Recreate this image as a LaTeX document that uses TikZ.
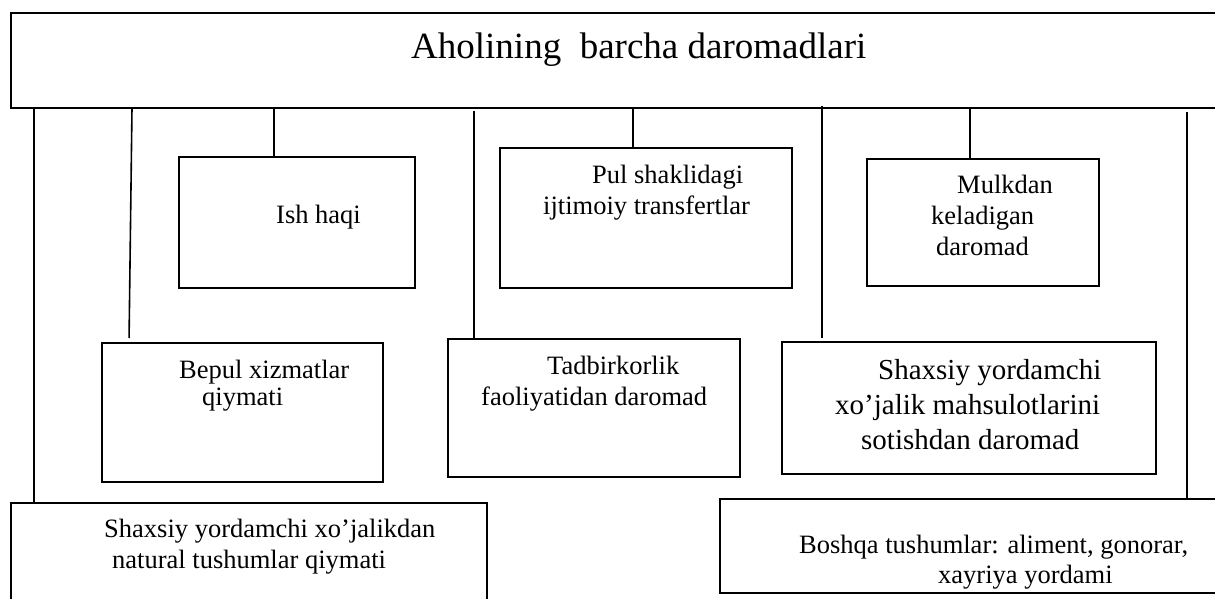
\documentclass[tikz,border=0pt]{standalone}
\usepackage{fontspec}
\setmainfont{Liberation Serif}
\newcommand{\rbox}[5]{\node[boxst,minimum width={#4-#2},minimum height={#5-#3}] (#1) at ({(#2+#4)/2},{(#3+#5)/2}) {};}
\begin{document}
\begin{tikzpicture}[x=1pt,y=-1pt,
  boxst/.style={draw=black,line width=1.6pt,inner sep=0pt,outer sep=0pt,rectangle},
  conn/.style={draw=black,line width=1.6pt},
  txt/.style={anchor=base west,inner sep=0pt,font=\fontsize{26.5}{31}\selectfont},
  bigtxt/.style={anchor=base west,inner sep=0pt,font=\fontsize{29}{35}\selectfont},
  ttl/.style={anchor=base west,inner sep=0pt,font=\fontsize{37}{44}\selectfont}]
\useasboundingbox (0,0) rectangle (1215,599);
\clip (0,0) rectangle (1215,599);
\fill[white] (0,0) rectangle (1215,599);
% boxes
\rbox{top}{11}{13}{1320}{108}
\rbox{ish}{179}{157}{415}{288}
\rbox{pul}{500}{148}{792}{288}
\rbox{mulk}{867}{159}{1099}{286}
\rbox{bepul}{102}{343}{383}{482}
\rbox{tadb}{448}{339}{740}{477}
\rbox{shax}{782}{342}{1156}{474}
\rbox{natural}{11}{503}{487}{700}
\rbox{boshqa}{720}{499}{1320}{593}
% connector guide coordinates
\coordinate (c1) at (34,0);
\coordinate (c2a) at (132,0);
\coordinate (c2b) at (129,0);
\coordinate (c3) at (274,0);
\coordinate (c4) at (474,0);
\coordinate (c5) at (633,0);
\coordinate (c6) at (822,0);
\coordinate (c7) at (970,0);
\coordinate (c8) at (1187,0);
% connectors
\draw[conn] (top.south -| c1) -- (natural.north -| c1);
\draw[conn,shorten >=5pt] (top.south -| c2a) -- (bepul.north -| c2b);
\draw[conn] (top.south -| c3) -- (ish.north -| c3);
\draw[conn,shorten <=3pt] (top.south -| c4) -- (tadb.north -| c4);
\draw[conn] (top.south -| c5) -- (pul.north -| c5);
\draw[conn,shorten <=-2pt,shorten >=4pt] (top.south -| c6) -- (shax.north -| c6);
\draw[conn] (top.south -| c7) -- (mulk.north -| c7);
\draw[conn,shorten <=4pt] (top.south -| c8) -- (boshqa.north -| c8);
% texts
\node[ttl] (title) at (411,59) {Aholining\ \ barcha daromadlari};
\node[txt] (ish1) at (276,223) {Ish haqi};
\node[txt] (pul1) at (592,183) {Pul shaklidagi};
\node[txt] (pul2) at (543,214) {ijtimoiy transfertlar};
\node[txt] (mulk1) at (957,193) {Mulkdan};
\node[txt] (mulk2) at (931,224) {keladigan};
\node[txt] (mulk3) at (936,255) {daromad};
\node[txt] (bepul1) at (179,378) {Bepul xizmatlar};
\node[txt] (bepul2) at (202,405) {qiymati};
\node[txt] (tadb1) at (547,374) {Tadbirkorlik};
\node[txt] (tadb2) at (481,405) {faoliyatidan daromad};
\node[bigtxt] (shax1) at (878,379) {Shaxsiy yordamchi};
\node[bigtxt] (shax2) at (835,414) {xo’jalik mahsulotlarini};
\node[bigtxt] (shax3) at (861,449) {sotishdan daromad};
\node[txt] (nat1) at (104,537) {Shaxsiy yordamchi xo’jalikdan};
\node[txt] (nat2) at (112,568) {natural tushumlar qiymati};
\node[txt] (bosh1) at (799,553) {Boshqa tushumlar: aliment, gonorar,};
\node[txt] (bosh2) at (938,583) {xayriya yordami};
\end{tikzpicture}
\end{document}
